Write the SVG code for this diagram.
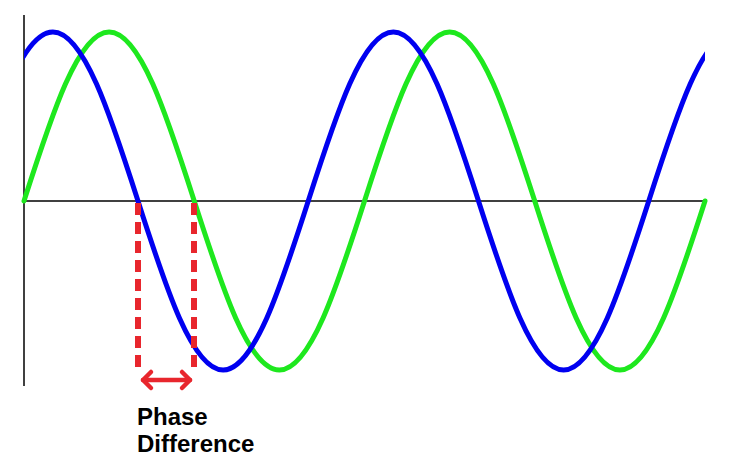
<svg xmlns="http://www.w3.org/2000/svg" width="736" height="464" viewBox="0 0 736 464">
<style>
.axis{stroke:#000;stroke-width:1.5;fill:none}
.wave{fill:none;stroke-width:5;stroke-linejoin:round;stroke-linecap:round}
.red{stroke:#e8262d;fill:none}
.lbl{font-family:"Liberation Sans",Arial,sans-serif;font-weight:bold;font-size:24px;fill:#000}
</style>
<defs>
<clipPath id="plot"><rect x="24" y="0" width="681" height="464"/></clipPath>
</defs>
<rect width="736" height="464" fill="#fff"/>
<g id="axes">
<line class="axis" x1="24" y1="15" x2="24" y2="386"/>
<line class="axis" x1="24" y1="201" x2="707" y2="201"/>
</g>
<g id="green-wave">
<path class="wave" stroke="#1ee81e" d="M24,201 C51.76,114.42 78.32,32 109.125,32 C139.93,32 166.49,114.42 194.25,201 C222.01,287.58 248.57,370 279.375,370 C310.18,370 336.74,287.58 364.5,201 C392.26,114.42 418.82,32 449.625,32 C480.43,32 506.99,114.42 534.75,201 C562.51,287.58 589.07,370 619.875,370 C650.68,370 677.24,287.58 705,201"/>
</g>
<g id="blue-wave" clip-path="url(#plot)">
<path class="wave" stroke="#0000f0" d="M-32.25,201 C-4.49,114.42 22.07,32 52.875,32 C83.68,32 110.24,114.42 138,201 C165.76,287.58 192.32,370 223.125,370 C253.93,370 280.49,287.58 308.25,201 C336.01,114.42 362.57,32 393.375,32 C424.18,32 450.74,114.42 478.5,201 C506.26,287.58 532.82,370 563.625,370 C594.43,370 620.99,287.58 648.75,201 C676.51,114.42 703.07,32 733.875,32"/>
</g>
<g id="connectors">
<line class="red" stroke-width="6" stroke-dasharray="12 7" x1="138" y1="203" x2="138" y2="373"/>
<line class="red" stroke-width="6" stroke-dasharray="12 7" x1="194" y1="203" x2="194" y2="373"/>
<g id="phase-arrow" stroke-width="4.5" stroke-linecap="round" stroke-linejoin="round">
<line class="red" x1="143" y1="380" x2="190" y2="380"/>
<polyline class="red" points="151,372 143,380 151,388"/>
<polyline class="red" points="182,372 190,380 182,388"/>
</g>
</g>
<g id="label">
<text class="lbl" x="137" y="425">Phase</text>
<text class="lbl" x="137" y="452">Difference</text>
</g>
</svg>
